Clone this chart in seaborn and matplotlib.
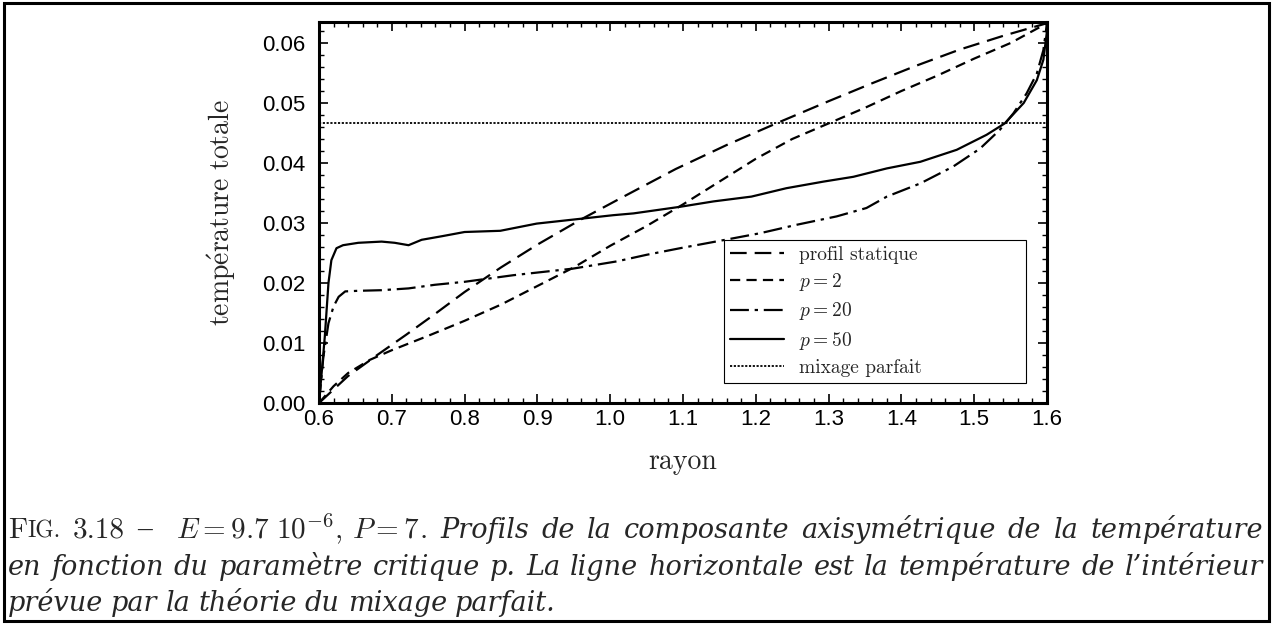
import matplotlib
matplotlib.use("Agg")
import matplotlib.pyplot as plt
from matplotlib.ticker import MultipleLocator, FormatStrFormatter
from matplotlib.patches import Rectangle
import seaborn as sns

# Temperature profiles versus radius
r_static = [0.60, 0.64, 0.68, 0.72, 0.76, 0.80, 0.85, 0.90, 0.96, 1.02, 1.09,
            1.16, 1.23, 1.30, 1.36, 1.42, 1.48, 1.54, 1.60]
T_static = [0.0000, 0.0045, 0.0080, 0.0114, 0.0149, 0.0185, 0.0226, 0.0264,
            0.0306, 0.0345, 0.0390, 0.0430, 0.0467, 0.0503, 0.0533, 0.0562,
            0.0589, 0.0612, 0.0633]

r_p2 = [0.60, 0.62, 0.64, 0.67, 0.70, 0.75, 0.80, 0.85, 0.90, 0.95, 1.00, 1.05,
        1.10, 1.15, 1.20, 1.25, 1.30, 1.35, 1.40, 1.45, 1.50, 1.55, 1.60]
T_p2 = [0.0000, 0.0028, 0.0050, 0.0072, 0.0088, 0.0112, 0.0137, 0.0164,
        0.0195, 0.0226, 0.0262, 0.0295, 0.0331, 0.0369, 0.0407, 0.0440,
        0.0466, 0.0492, 0.0520, 0.0546, 0.0574, 0.0600, 0.0633]

r_p20 = [0.600, 0.606, 0.613, 0.620, 0.627, 0.636, 0.654, 0.686, 0.723, 0.759,
         0.800, 0.867, 0.949, 1.009, 1.050, 1.096, 1.158, 1.206, 1.256, 1.311,
         1.352, 1.380, 1.426, 1.471, 1.508, 1.535, 1.554, 1.572, 1.586, 1.595,
         1.600]
T_p20 = [0.0000, 0.0077, 0.0133, 0.0161, 0.0177, 0.0186, 0.0187, 0.0188,
         0.0191, 0.0197, 0.0202, 0.0213, 0.0224, 0.0236, 0.0247, 0.0258,
         0.0272, 0.0283, 0.0297, 0.0311, 0.0325, 0.0344, 0.0366, 0.0394,
         0.0424, 0.0455, 0.0483, 0.0516, 0.0549, 0.0588, 0.0633]

r_p50 = [0.600, 0.604, 0.608, 0.613, 0.617, 0.624, 0.633, 0.654, 0.686, 0.704,
         0.723, 0.741, 0.769, 0.800, 0.849, 0.899, 0.959, 1.004, 1.032, 1.096,
         1.142, 1.194, 1.242, 1.293, 1.334, 1.380, 1.426, 1.476, 1.517, 1.542,
         1.568, 1.586, 1.595, 1.5996, 1.600]
T_p50 = [0.0000, 0.0055, 0.0111, 0.0200, 0.0238, 0.0258, 0.0263, 0.0267,
         0.0269, 0.0267, 0.0263, 0.0272, 0.0278, 0.0285, 0.0287, 0.0299,
         0.0307, 0.0313, 0.0316, 0.0327, 0.0336, 0.0344, 0.0358, 0.0369,
         0.0377, 0.0391, 0.0402, 0.0422, 0.0447, 0.0466, 0.0500, 0.0538,
         0.0572, 0.0616, 0.0633]

T_mix = 0.0466

labels = ["profil statique", "$p = 2$", "$p = 20$", "$p = 50$", "mixage parfait"]

sns.set_style("ticks")
plt.rcParams["font.family"] = ["Liberation Sans", "DejaVu Sans"]
plt.rcParams["mathtext.fontset"] = "cm"
plt.rcParams["axes.unicode_minus"] = False

W, H = 1272, 624
fig = plt.figure(figsize=(W / 100, H / 100), dpi=100)
fig.patch.set_facecolor("white")
ax = fig.add_axes([319 / W, 1 - 403 / H, 728 / W, 381 / H])
ax.set_facecolor("white")

curves = [
    (r_static, T_static, (0, (7.5, 3.6))),
    (r_p2, T_p2, (0, (4.6, 2.8))),
    (r_p20, T_p20, (0, (8.5, 2.6, 1.5, 2.6))),
    (r_p50, T_p50, "-"),
]
for (r, T, ls), lab in zip(curves, labels):
    sns.lineplot(x=r, y=T, ax=ax, color="black", linewidth=1.6, linestyle=ls,
                 label=lab, estimator=None, sort=False)
ax.axhline(T_mix, color="black", linewidth=1.3, linestyle=(0, (1.2, 0.9)),
           label=labels[4])

ax.set_xlim(0.6, 1.6)
ax.set_ylim(0.0, 0.0635)
ax.xaxis.set_major_locator(MultipleLocator(0.1))
ax.xaxis.set_minor_locator(MultipleLocator(0.02))
ax.yaxis.set_major_locator(MultipleLocator(0.01))
ax.yaxis.set_minor_locator(MultipleLocator(0.002))
ax.xaxis.set_major_formatter(FormatStrFormatter("%.1f"))
ax.yaxis.set_major_formatter(FormatStrFormatter("%.2f"))
ax.tick_params(which="both", direction="in", top=True, right=True,
               colors="black")
ax.tick_params(which="major", length=6.5, width=1.2, labelsize=16)
ax.tick_params(which="minor", length=3.6, width=1.0)
ax.tick_params(axis="y", which="major", pad=9.5)
ax.tick_params(axis="x", which="major", pad=4.5)
for sp in ax.spines.values():
    sp.set_visible(True)
    sp.set_linewidth(2.2)
    sp.set_color("black")

ax.set_xlabel("rayon", fontfamily="cmr10", fontsize=20)
ax.set_ylabel(r"$\mathrm{temp\acute{e}rature\ totale}$", fontsize=20)
ax.xaxis.set_label_coords(0.5, (403 - 462) / 381)
ax.xaxis.label.set_verticalalignment("center")
ax.yaxis.set_label_coords((222 - 319) / 728, 0.5)
ax.yaxis.label.set_verticalalignment("center")

# Legend box spans a fixed width, entries sit at its left side
x0 = (724 - 319) / 728
x1 = (1026 - 319) / 728
y0 = (403 - 383) / 381
leg = ax.legend(loc="lower left", bbox_to_anchor=(x0, y0, x1 - x0, 0.1),
                mode="expand", borderaxespad=0.0,
                prop={"family": "cmr10", "size": 14},
                handlelength=2.8, handletextpad=0.75, borderpad=0.3,
                labelspacing=0.38, frameon=True, fancybox=False,
                edgecolor="black", framealpha=1.0)
leg.get_frame().set_linewidth(0.8)

# Page frame around figure and caption
fig.add_artist(Rectangle((4 / W, 3 / H), 1265 / W, 618 / H,
                         transform=fig.transFigure, fill=False,
                         linewidth=2.2, edgecolor="black"))

# Caption set word by word so that full lines are justified
renderer = fig.canvas.get_renderer()
cap = 21
rm = dict(fontfamily="cmr10", fontsize=cap)
sc = dict(fontfamily="cmr10", fontsize=cap * 0.8)
dash = dict(fontfamily="Liberation Serif", fontsize=cap)
math = dict(fontsize=cap)
it = dict(fontfamily="DejaVu Serif", fontstyle="italic", fontsize=19.5)


def set_line(words, baseline, left, right=None, gap_weights=None):
    y = 1 - baseline / H
    placed = []
    for word in words:
        frags = []
        width = 0.0
        for s, kw in word:
            t = fig.text(0, y, s, ha="left", va="baseline", **kw)
            w = t.get_window_extent(renderer=renderer).width
            frags.append((t, w))
            width += w
        placed.append((frags, width))
    n_gaps = len(placed) - 1
    weights = gap_weights or [1.0] * n_gaps
    total = sum(w for _, w in placed)
    if right is not None and n_gaps > 0:
        unit = (right - left - total) / sum(weights)
    else:
        unit = 8.0
    x = left
    for i, (frags, width) in enumerate(placed):
        for t, w in frags:
            t.set_x(x / W)
            x += w
        if i < n_gaps:
            x += unit * weights[i]


def italic_words(text):
    return [[(w, it)] for w in text.split()]


line1 = ([[("F", rm), ("IG.", sc)], [("3.18", rm)], [("–", dash)],
          [(r"$E = 9.7\ 10^{-6},\,P = 7$", math), (".", rm)]]
         + italic_words("Profils de la composante axisymétrique de la température"))
weights1 = [1.0] * (len(line1) - 1)
weights1[2] = 2.0
set_line(line1, 538, 8, 1263, weights1)
set_line(italic_words("en fonction du paramètre critique p. La ligne horizontale "
                      "est la température de l’intérieur"), 575, 8, 1263)
set_line(italic_words("prévue par la théorie du mixage parfait."), 611, 8)

fig.savefig("out.png", dpi=100, facecolor="white")
